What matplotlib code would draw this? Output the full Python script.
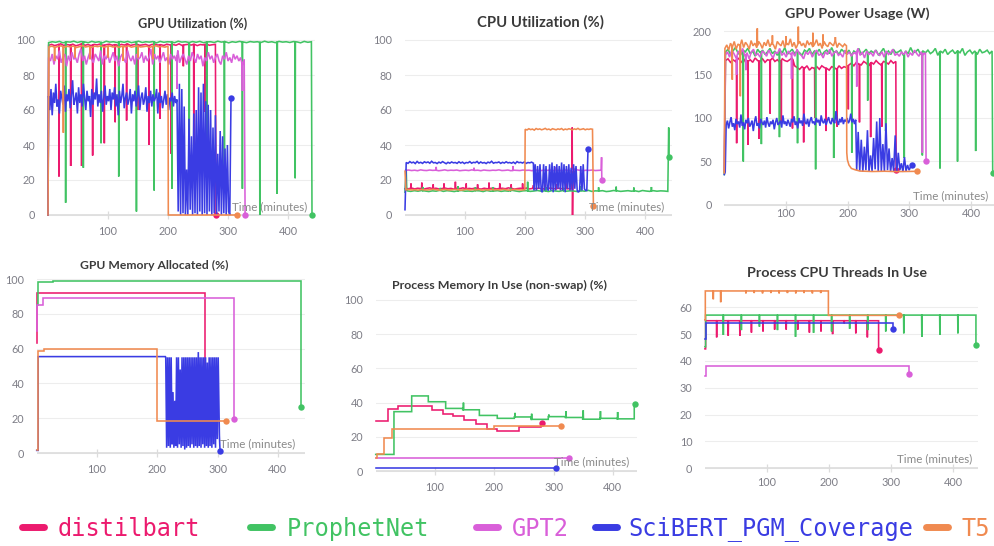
import numpy as np
import matplotlib
matplotlib.use('Agg')
import matplotlib.pyplot as plt

plt.rcParams['font.family'] = ['Lato', 'DejaVu Sans']

W, H = 995, 546
RUNS = ['distilbart', 'ProphetNet', 'GPT2', 'SciBERT_PGM_Coverage', 'T5']
COLORS = {'distilbart': '#EC1A6E', 'ProphetNet': '#41C363', 'GPT2': '#D95FD9',
          'SciBERT_PGM_Coverage': '#3A3CE3', 'T5': '#F08A50'}
X_TICKS = [100, 200, 300, 400]
TITLES = ['GPU Utilization (%)', 'CPU Utilization (%)', 'GPU Power Usage (W)',
          'GPU Memory Allocated (%)', 'Process Memory In Use (non-swap) (%)',
          'Process CPU Threads In Use']
XLABEL = 'Time (minutes)'

# ---------------- GPU Utilization (%) ----------------
gu_green_base = [98.5,99,98.7,99.2,98.4,99,98.8,99.3,98.6,99.1,98.9,98.5,99.2,98.7,99,98.4,99.3,98.8,99,98.6,
                 99.1,98.7,99.2,98.5,98.9,99.3,98.6,99,98.8,99.1,98.4,99.2,98.7,99,98.9,98.5,99.3,98.8,99,98.6,
                 99.1,98.7,99.2,98.5,98.9,99,98.6,99.3,98.8,99.1,98.4,99,98.7,99.2,98.9,98.5,99.1,98.8,99,98.6,
                 99.3,98.7,99,98.5,99.2,98.8,99,98.6,99.1,98.9,98.4,99.2,98.7,99]
gu_green_dip_t = [29.4, 58.9, 88.4, 117.9, 147.4, 176.9, 206.4, 235.5, 264.5, 294, 324, 353, 382, 412]
gu_green_dip_v = [7, 27, 41, 22, 2, 14, 15, 45, 30, 16, 15, 0, 12, 21]
gu_pink_base = [97,97.5,96.8,97.3,97.8,96.9,97.4,97.1,97.6,96.7,97.2,97.9,97,97.4,96.8,97.5,97.2,97.7,96.9,97.3,
                97.6,97,97.4,96.8,97.5,97.1,97.8,96.9,97.3,97.6,97,97.2,97.5,96.8,97.4,97.7,97.1,97.3,96.9,97.6,
                97.2,97.4,97,97.8,96.9,97.3,97.5,97.1,97.6,96.8,97.4,97.2,97.7,97,97.3,97.5]
gu_pink_dip_t = [18.3, 37.8, 56, 74.4, 93.9, 112, 131, 149.4, 168.3, 186.7, 205.3, 225.6, 243, 261.7]
gu_pink_dip_v = [22, 28, 28, 34, 41, 53, 54, 60, 40, 55, 35, 85, 33, 59]
gu_orange_base = [96,96.5,95.8,96.3,96.7,95.9,96.4,96.1,96.6,95.7,96.2,96.8,96,96.4,95.8,96.5,96.2,96.7,95.9,96.3,
                  96.6,96,96.4,95.8,96.5,96.1,96.7,95.9,96.3,96.6,96,96.2,96.5,95.8,96.4,96.7,96.1,96.3,95.9,96.5]
gu_orange_dip_t = [11, 25.6, 45, 70, 100, 125, 150, 175]
gu_orange_dip_v = [88, 47, 90, 89, 90, 88, 90, 89]
gu_magenta_base = [90,88,92,86,91,89,94,87,90,92,85,91,88,93,89,90,87,92,95,88,91,86,90,93,89,87,92,90,88,94,
                   86,91,89,92,87,90,93,88,91,85,90,92,89,87,94,90,88,91,86,92,89,90,93,87,91,88,90,95,86,92,
                   89,91,87,90,93,88,90,86,92,89,91,88,94,87,90,92,89,86,91,88,93,90,87,92,89,91,85,90,88,93,
                   89,91,87,90,92,88,86,91,89,93,88,90,87,92,89,91,88,90,86,89]
gu_magenta_dip_t = [215, 324]
gu_magenta_dip_v = [72, 71]
gu_blue_base = [68,60,72,57,70,64,75,62,66,58,71,67,63,74,59,69,65,72,61,68,77,63,66,70,58,73,64,69,62,75,
                67,60,71,65,68,56,72,63,70,66,78,62,69,64,71,59,67,74,63,68,65,72,60,70,66,73,62,69,57,71,
                64,68,75,61,67,70,63,66,72,58,69,65,71,62,68,74,60,67,70,63,66,73,59,68,64,71,62,69,65,67,
                72,58,70,64,68,61,66,71,63,69,60,67,65,70,62,68,64,66]
gu_blue_osc = [2,75,0,72,1,62,0,26,0,55,3,45,0,58,1,60,0,73,2,70,0,75,1,65,0,63,2,60,0,50,
               1,57,0,35,2,48,0,45,1,38,0,40,2,0]

# ---------------- CPU Utilization (%) ----------------
cu_blue_base = [30,29.5,30.5,29.8,30.2,29.4,30.6,29.7,30.1,29.5,30.4,29.9,30.3,29.6,30.7,29.8,30,29.4,30.2,29.7,
                30.5,29.9,29.3,30.1,29.6,30.3,29.8,30,29.5,30.4,29.7,30.2,29.4,30,29.8,30.5,29.6,30.1,29.9,30.6,
                29.5,30.3,29.7,30,29.4,30.2,29.8,30.7,29.6,30,29.9,30.3,29.5,30.1,29.7,30.4,29.8,30,29.6,30.2,
                29.4,30.5,29.9,30.1,29.7,30.3,29.5,30,29.8,30.2,29.6]
cu_blue_osc = [14,29,14,28,15,29,14,13,29,14,28,15,14,29,14,30,13,28,14,29,15,28,14,30,14,29,13,28,15,29,
               14,27,14,29,15,28,14,13,14,28,14,29,15,14,14]
cu_pink_base = [15.2,15,15.4,14.9,15.3,15.1,14.8,15.2,15.5,15,15.3,14.9,15.1,15.4,15,15.2,14.8,15.3,15.1,15.5,
                14.9,15.2,15,15.4,15.1,14.8,15.3,15,15.2,15.4,14.9,15.1,15.3,15,15.5,15.2,14.8,15.1,15.3,15,
                15.4,14.9,15.2,15.1,15.3,15,14.8,15.2,15.4,15,15.1,15.3,14.9,15.2,15,15.1]
cu_pink_spk_t = [10, 28, 47, 65, 84, 102, 121, 140, 158, 177, 196, 214, 233, 252, 270]
cu_pink_spk_v = [18, 18.5, 17.5, 18, 19, 18, 17.5, 18.5, 18, 17.5, 18, 17, 18, 17.5, 18]
cu_green_base = [13.8,13.5,13.9,13.6,14,13.7,13.4,13.8,13.6,14.1,13.5,13.9,13.7,13.4,13.8,14,13.6,13.7,13.5,13.9,
                 13.8,13.4,14,13.6,13.7,13.9,13.5,13.8,13.6,14.1,13.7,13.4,13.8,13.9,13.5,13.7,14,13.6,13.8,13.4,
                 13.9,13.7,13.5,14,13.6,13.8,13.7,13.4,13.9,13.6,14.1,13.5,13.8,13.7,13.9,13.4,13.6,14,13.8,13.5,
                 13.7,13.9,13.6,13.8,13.4,14,13.7,13.5,13.9,13.6,13.8,13.7,13.5]
cu_green_spk_t = [29.5, 58.8, 88, 117.4, 146.7, 176, 204.4, 234.7, 264, 293.4, 322.7, 352, 381.4, 410.7]
cu_green_spk_v = [16, 15.5, 16.5, 15.8, 16, 15.5, 19, 16, 15.6, 16.4, 15.8, 16.2, 15.7, 16]
cu_magenta_base = [25.5,25.7,25.4,25.6,25.3,25.8,25.5,25.4,25.7,25.5,25.6,25.3,25.5,25.8,25.4,25.6,25.5,25.7,25.3,25.5,
                   25.6,25.4,25.8,25.5,25.6,25.3,25.7,25.5,25.4,25.6,25.5,25.8,25.4,25.5,25.7,25.3,25.6,25.5,25.4,25.7,
                   25.5,25.6,25.3,25.8,25.5,25.4,25.6,25.5,25.7,25.4,25.5,25.6,25.3,25.7,25.5,25.4,25.6,25.8,25.5,25.3,
                   25.6,25.5,25.7,25.4,25.5,25.6]
cu_magenta_spk_t = [52, 115, 180, 250, 285]
cu_magenta_spk_v = [27.5, 27, 28, 27.5, 27]
cu_orange_low = [14.4,14.6,14.3,14.5,14.2,14.6,14.4,14.3,14.5,14.7,14.4,14.2,14.5,14.6,14.3,14.4,14.6,14.5,14.2,14.4,
                 14.7,14.3,14.5,14.4,14.6,14.2,14.5,14.3,14.6,14.4,14.5,14.3,14.7,14.4,14.2,14.5,14.6,14.4,14.3,14.5]
cu_orange_high = [49,48.6,49.3,48.8,49.1,48.5,49.4,48.9,49.2,48.7,49,49.5,48.8,49.1,48.6,49.3,49,48.7,49.2,48.9,
                  49.4,48.6,49.1,48.8,49.3,49,48.7,49.2,48.9,49.5,48.8,49,49.3,48.7,49.1,48.9,49.2,49]

# ---------------- GPU Power Usage (W) ----------------
gp_orange_base = [180,184,178,186,182,188,179,185,183,190,181,187,184,179,189,183,186,181,188,185,
                  180,187,183,190,182,186,184,179,188,185,183,189,181,186,184,191,182,187,180,185,
                  188,183,186,181,189,184,187,182,185,190,183,186,180,188,184,182,187,185,183,189,
                  181,186,184,182,185,183]
gp_orange_spk_t = [13, 26, 53.5, 78, 100, 120, 143.5, 160, 180]
gp_orange_spk_v = [144, 125, 203, 195, 194, 205, 198, 196, 193]
gp_orange_tail_t = [198.5, 199.5, 202, 206, 212, 220, 240, 260, 280, 300, 312]
gp_orange_tail_v = [60, 52, 46, 42, 40.5, 39, 38.5, 38.8, 38.4, 38.6, 38.7]
gp_magenta_base = [172,176,170,178,174,169,177,173,180,171,175,168,176,179,172,174,170,177,175,171,
                   178,173,169,176,174,180,172,175,170,177,173,176,171,179,174,172,168,176,173,177,
                   170,175,178,172,174,169,176,173,179,171,175,177,172,174,170,178,173,176,171,175,
                   174,180,172,176,169,177,173,175,171,178,174,172,176,170,177,173,175,179,172,174,
                   171,176,173,177,170,175,172,178,174,171,176,173,175]
gp_magenta_dip_t = [20, 35, 109, 214.6, 321]
gp_magenta_dip_v = [150, 155, 145, 136, 60]
gp_pink_base = [166,168,164,167,165,169,166,163,168,165,167,164,169,166,165,168,164,167,166,169,
                165,167,164,168,166,165,167,169,160,158,156,159,157,160,155,158,157,159,156,160,
                158,157,155,159,158,156,160,157,159,158,161,163,160,164,162,161,165,163,160,164,
                162,166,163,161,165,164,162,166,163,165]
gp_pink_dip_t = [20, 38.1, 56.2, 74.3, 92.4, 110.5, 128.6, 146.7, 164.8, 182.9, 201, 219.1, 237.2, 255.3]
gp_pink_dip_v = [71, 69, 76, 105, 95, 88, 72, 100, 85, 90, 110, 95, 78, 90]
gp_green_base = [176,179,173,177,181,175,172,178,176,180,174,177,171,179,175,178,173,176,180,174,
                 177,172,178,175,181,173,176,179,174,177,175,172,178,176,180,173,177,175,179,172,
                 176,178,174,181,175,177,173,179,176,174,178,172,177,175,180,173,176,179,174,177,
                 175,178,172,176,180,174,177,173,179,175,176,178,172,177,174,181,175,176,179,173,
                 177,175,178,174,176,180,172,177,175,179,173,176,178,174,177,175,180,172,176,178,
                 174,177,173,179,175,176,178,174,177]
gp_green_dip_t = [30.8, 60.1, 89.4, 118.7, 148, 177.3, 206.6, 232.4, 261.5, 291.7, 321, 349.6, 378, 407.4]
gp_green_dip_v = [50, 70, 78, 71, 41, 54, 60, 120, 85, 54, 57, 42, 50, 62]
gp_blue_base = [92,97,88,95,101,90,94,86,99,93,96,89,104,91,95,87,98,94,100,90,93,97,85,96,102,91,94,88,99,95,
                92,97,89,101,94,90,96,93,98,87,95,100,92,94,97,89,103,93,96,91,98,94,90,99,95,102,92,96,88,100,
                94,97,91,105,95,93,99,90,97,101,94,96,92,100,95,98,91,103,96,94,99,92,97,101,95,93,100,96,94,108,
                97,92,99,95,101,93,98,96,100,94,97,105,95,99,93,98]
gp_blue_osc = [40,84,39,75,38,67,40,86,38,57,39,77,41,96,38,100,39,70,38,94,40,65,38,54,39,80,38,60,40,48,
               38,55,39,46,40,44]

# ---------------- GPU Memory Allocated (%) ----------------
gm_green_t = [0, 2.5, 27.5, 438.3]
gm_green_v = [85, 98.2, 98.6, 26.3]
gm_pink_t = [0, 1, 279.2]
gm_pink_v = [63, 92.1, 21.8]
gm_magenta_t = [0, 1, 11, 327.7]
gm_magenta_v = [70, 85, 88.9, 19.4]
gm_orange_t = [0, 1.5, 12.6, 200, 314]
gm_orange_v = [1.7, 58.4, 59.8, 18.4, 18.4]
gm_blue_t = [0, 2.5, 213.4]
gm_blue_v = [1.5, 55.4, 55.4]
gm_blue_osc = [55,3,55,4,55,3,55,5,35,3,30,4,55,3,55,5,48,3,55,4,55,2,55,3,55,4,55,3,55,5,
               55,3,55,4,55,3,58,4,55,3,55,5,55,3,55,4,52,3,55,4,55,3,55,5,55,3,55,8,55]

# ---------------- Process Memory In Use (non-swap) (%) ----------------
pm_pink_t = [0, 20, 38, 94.4, 113, 131, 149.5, 168.6, 187, 205, 242, 262, 279.5, 280]
pm_pink_v = [29.4, 36.3, 38, 35.7, 33.3, 32.2, 29.8, 27.3, 24.6, 23.4, 25.5, 26, 28.3, 28.3]
pm_green_t = [0, 30.8, 60.7, 88.7, 118, 146.7, 174.8, 205, 233.7, 262, 291, 320, 349, 378, 407, 436, 437]
pm_green_v = [9.7, 34.7, 43.9, 40.5, 36.6, 35.8, 32.5, 30.8, 31.6, 30.2, 31.8, 31.3, 30.3, 30.8, 30.5, 39.2, 39.2]
pm_green_tick_t = [148, 235, 263, 292, 321, 350, 379, 408]
pm_green_tick_v = [40, 34, 33.5, 33, 35, 35.5, 35, 34.5]
pm_orange_t = [0, 1.5, 14.6, 28, 199.5, 312.5]
pm_orange_v = [7.4, 9.9, 19.5, 24.4, 26.5, 26.5]
pm_magenta_t = [0, 326.5]
pm_magenta_v = [7.6, 7.6]
pm_blue_t = [0, 303.5]
pm_blue_v = [1.6, 1.6]

# ---------------- Process CPU Threads In Use ----------------
th_orange_t = [0, 0.5, 199, 313.4]
th_orange_v = [55.3, 66.1, 57, 57]
th_orange_tick_t = [13.4, 25.3, 66, 79.4, 92.8, 106.2, 119.6, 133, 146.4, 159.8, 173.2, 186.6]
th_orange_tick_v = [63, 61.9, 65.2, 65.3, 65.2, 65.3, 65.2, 65.3, 65.2, 65.3, 65.2, 65.3]
th_green_t = [0, 1, 437]
th_green_v = [45.3, 57.1, 46]
th_green_tick_t = [29.6, 58.7, 87.8, 116.9, 146, 175.1, 204.2, 233.3, 262.4, 291.5, 320.6, 349.7, 378.8, 407.9]
th_green_tick_v = [49.7, 51.5, 52.8, 51.5, 49, 50.5, 51, 52, 51.5, 51, 50.3, 49, 49.7, 50.3]
th_pink_t = [0, 1, 280]
th_pink_v = [44.5, 55, 44.1]
th_pink_tick_t = [18.8, 37.5, 56.2, 74.9, 93.6, 112.3, 131, 149.7, 168.4, 187.1, 205.8, 224.5, 243.2, 261.9]
th_pink_tick_v = [48.8, 49.4, 49.4, 50.6, 51, 51.7, 51.7, 51.7, 50.6, 51, 50, 54, 50.3, 48.8]
th_blue_t = [0, 1, 304]
th_blue_v = [48.1, 54, 52]
th_magenta_t = [0, 1, 328.5]
th_magenta_v = [34.4, 38.1, 35]


# ---------------- helpers ----------------
def seq(t0, t1, vals):
    return list(zip(np.linspace(t0, t1, len(vals)), vals))


def with_spikes(pts, sp_t, sp_v, w=0.35):
    a = np.array(pts, float)
    out = list(map(tuple, a))
    for tt, tv in zip(sp_t, sp_v):
        b = float(np.interp(tt, a[:, 0], a[:, 1]))
        out += [(tt - w, b), (tt, tv), (tt + w, b)]
    out.sort(key=lambda p: p[0])
    return out


def step_pts(ts, vs, tick_t=(), tick_v=(), w=0.35):
    out = [(ts[0], vs[0])]
    for i in range(1, len(ts)):
        out += [(ts[i], vs[i - 1]), (ts[i], vs[i])]
    for tt, tv in zip(tick_t, tick_v):
        idx = int(np.searchsorted(ts, tt, side='right')) - 1
        b = vs[idx]
        out += [(tt - w, b), (tt, tv), (tt + w, b)]
    out.sort(key=lambda p: p[0])
    return out


fig = plt.figure(figsize=(W / 100, H / 100), dpi=100)
fig.patch.set_facecolor('white')
renderer = fig.canvas.get_renderer()


def add_panel(x0, sx, xlim, y0, sy, ylim, yticks, xpad_pt):
    left = x0 + xlim[0] * sx
    right = x0 + xlim[1] * sx
    bot = y0 - ylim[0] * sy
    top = y0 - ylim[1] * sy
    ax = fig.add_axes([left / W, 1 - bot / H, (right - left) / W, (bot - top) / H])
    ax.set_xlim(xlim)
    ax.set_ylim(ylim)
    for s in ax.spines.values():
        s.set_visible(False)
    ax.set_yticks(yticks)
    ax.set_xticks(X_TICKS)
    ax.tick_params(axis='y', length=0, pad=9, labelsize=7.8, labelcolor='#7d7d86')
    ax.tick_params(axis='x', length=0, pad=xpad_pt, labelsize=7.8, labelcolor='#7d7d86')
    for yt in yticks:
        ax.axhline(yt, color='#ededed', lw=0.8, zorder=0)
    ax.axhline(0, color='#dedede', lw=1.3, zorder=0.5)
    ax.vlines(X_TICKS, -4 / sy, 4 / sy, color='#dcdcdc', lw=0.9, clip_on=False, zorder=0.5)
    ax.set_facecolor('none')
    return ax


def draw(ax, pts, run, dot=True, lw=1.15):
    a = np.array(pts, float)
    ax.plot(a[:, 0], a[:, 1], color=COLORS[run], lw=lw, solid_joinstyle='miter', clip_on=False)
    if dot:
        ax.plot(a[-1, 0], a[-1, 1], 'o', color=COLORS[run], ms=4.6, mew=0, clip_on=False)


def fig_text(xp, yp, s, target_w=None, **kw):
    t = fig.text(xp / W, 1 - yp / H, s, **kw)
    if target_w:
        bb = t.get_window_extent(renderer)
        t.set_fontsize(t.get_fontsize() * target_w / bb.width)
    return t


# ---------------- Panel 1: GPU Utilization ----------------
ax1 = add_panel(48, 0.6, (0, 445), 215, 1.75, (-1, 101), [0, 20, 40, 60, 80, 100], 6.7)
draw(ax1, [(0, 0)] + with_spikes(seq(1, 279, gu_pink_base), gu_pink_dip_t, gu_pink_dip_v) + [(280, 0)], 'distilbart')
draw(ax1, [(0, 0)] + with_spikes(seq(1, 439, gu_green_base), gu_green_dip_t, gu_green_dip_v) + [(440, 0)], 'ProphetNet')
draw(ax1, [(0, 0)] + with_spikes(seq(1, 327, gu_magenta_base), gu_magenta_dip_t, gu_magenta_dip_v) + [(328.5, 0)], 'GPT2')
draw(ax1, [(0, 0)] + seq(1, 215, gu_blue_base) + seq(217, 303, gu_blue_osc) + [(305, 67)], 'SciBERT_PGM_Coverage')
draw(ax1, [(0, 0)] + with_spikes(seq(1.5, 200, gu_orange_base), gu_orange_dip_t, gu_orange_dip_v)
     + [(200.5, 0), (315, 0)], 'T5')

# ---------------- Panel 2: CPU Utilization ----------------
ax2 = add_panel(405, 0.6, (0, 445), 215, 1.75, (-1, 101), [0, 20, 40, 60, 80, 100], 6.7)
draw(ax2, [(0, 15)] + with_spikes(seq(1, 278, cu_pink_base), cu_pink_spk_t, cu_pink_spk_v)
     + [(278.6, 50), (279.2, 0), (280, 25)], 'distilbart')
draw(ax2, [(0, 13), (2, 26), (3, 14)] + with_spikes(seq(3.5, 438, cu_green_base), cu_green_spk_t, cu_green_spk_v)
     + [(439.5, 50), (440, 33)], 'ProphetNet')
draw(ax2, with_spikes(seq(1, 327, cu_magenta_base), cu_magenta_spk_t, cu_magenta_spk_v)
     + [(327.6, 33), (328, 20)], 'GPT2')
draw(ax2, [(0, 3)] + seq(2, 214, cu_blue_base) + seq(215, 303, cu_blue_osc) + [(305, 37.5)], 'SciBERT_PGM_Coverage')
draw(ax2, [(0, 25)] + seq(1.5, 199.7, cu_orange_low) + seq(200.3, 312.5, cu_orange_high) + [(314, 5)], 'T5')

# ---------------- Panel 3: GPU Power ----------------
ax3 = add_panel(724.3, 0.617, (0, 437), 205, 0.87, (-2, 208), [0, 50, 100, 150, 200], 0.6)
draw(ax3, [(0, 37)] + with_spikes(seq(2, 278, gp_pink_base), gp_pink_dip_t, gp_pink_dip_v) + [(278.5, 40)], 'distilbart')
draw(ax3, [(0, 35)] + with_spikes(seq(2, 434, gp_green_base), gp_green_dip_t, gp_green_dip_v) + [(435, 37)], 'ProphetNet')
draw(ax3, [(0, 40)] + with_spikes(seq(1.5, 326, gp_magenta_base), gp_magenta_dip_t, gp_magenta_dip_v) + [(327, 51)], 'GPT2')
draw(ax3, [(0, 35), (1.5, 38)] + seq(3, 213, gp_blue_base) + seq(214.5, 302, gp_blue_osc) + [(304, 46)],
     'SciBERT_PGM_Coverage')
draw(ax3, [(0, 37)] + with_spikes(seq(1, 198, gp_orange_base), gp_orange_spk_t, gp_orange_spk_v)
     + list(zip(gp_orange_tail_t, gp_orange_tail_v)), 'T5')

# ---------------- Panel 4: GPU Memory ----------------
ax4 = add_panel(36.7, 0.603, (0, 445), 453, 1.74, (-1, 101), [0, 20, 40, 60, 80, 100], 6.7)
draw(ax4, step_pts(gm_pink_t, gm_pink_v), 'distilbart')
draw(ax4, step_pts(gm_green_t, gm_green_v), 'ProphetNet')
draw(ax4, step_pts(gm_magenta_t, gm_magenta_v), 'GPT2')
draw(ax4, step_pts(gm_blue_t, gm_blue_v) + seq(214, 301, gm_blue_osc) + [(303, 10), (304, 1.3)], 'SciBERT_PGM_Coverage')
draw(ax4, step_pts(gm_orange_t, gm_orange_v), 'T5')

# ---------------- Panel 5: Process Memory ----------------
ax5 = add_panel(375.7, 0.593, (0, 440), 471, 1.71, (-1, 101), [0, 20, 40, 60, 80, 100], 6.5)
draw(ax5, step_pts(pm_pink_t, pm_pink_v), 'distilbart')
draw(ax5, step_pts(pm_green_t, pm_green_v, pm_green_tick_t, pm_green_tick_v), 'ProphetNet')
draw(ax5, step_pts(pm_magenta_t, pm_magenta_v), 'GPT2')
draw(ax5, step_pts(pm_blue_t, pm_blue_v), 'SciBERT_PGM_Coverage')
draw(ax5, step_pts(pm_orange_t, pm_orange_v), 'T5')

# ---------------- Panel 6: Threads ----------------
ax6 = add_panel(705, 0.62, (0, 440), 468.3, 2.683, (-0.5, 68), [0, 10, 20, 30, 40, 50, 60], 5.3)
draw(ax6, step_pts(th_pink_t, th_pink_v, th_pink_tick_t, th_pink_tick_v), 'distilbart')
draw(ax6, step_pts(th_green_t, th_green_v, th_green_tick_t, th_green_tick_v), 'ProphetNet')
draw(ax6, step_pts(th_magenta_t, th_magenta_v), 'GPT2')
draw(ax6, step_pts(th_blue_t, th_blue_v), 'SciBERT_PGM_Coverage')
draw(ax6, step_pts(th_orange_t, th_orange_v, th_orange_tick_t, th_orange_tick_v), 'T5')

# ---------------- titles & axis labels ----------------
title_pos = [(193, 24, 109), (540, 22, 126), (857, 14, 145), (154, 265, 148), (500, 285, 216), (837, 273, 179)]
for (xc, yc, wd), s in zip(title_pos, TITLES):
    fig_text(xc, yc, s, target_w=wd, ha='center', va='center', fontsize=9, fontweight='bold', color='#3a3a3a')

time_pos = [(307, 207), (664, 207), (988, 196), (295, 444), (629, 462), (972, 459)]
for xr, yc in time_pos:
    fig_text(xr, yc, XLABEL, target_w=75, ha='right', va='center', fontsize=8.5, color='#8a8a8a')

# ---------------- legend ----------------
leg_marker_x = [22, 250, 476, 595, 926]
leg_text_x = [58, 287, 512, 628, 962]
for run, mx, tx in zip(RUNS, leg_marker_x, leg_text_x):
    fig.add_artist(plt.Line2D([mx / W, (mx + 22) / W], [1 - 527 / H, 1 - 527 / H], color=COLORS[run],
                              lw=5, solid_capstyle='round', transform=fig.transFigure))
    fig.text(tx / W, 1 - 529 / H, run, color=COLORS[run], fontsize=17, va='center', ha='left',
             family=['DejaVu Sans Mono'])

fig.savefig('out.png', dpi=100, facecolor='white')
